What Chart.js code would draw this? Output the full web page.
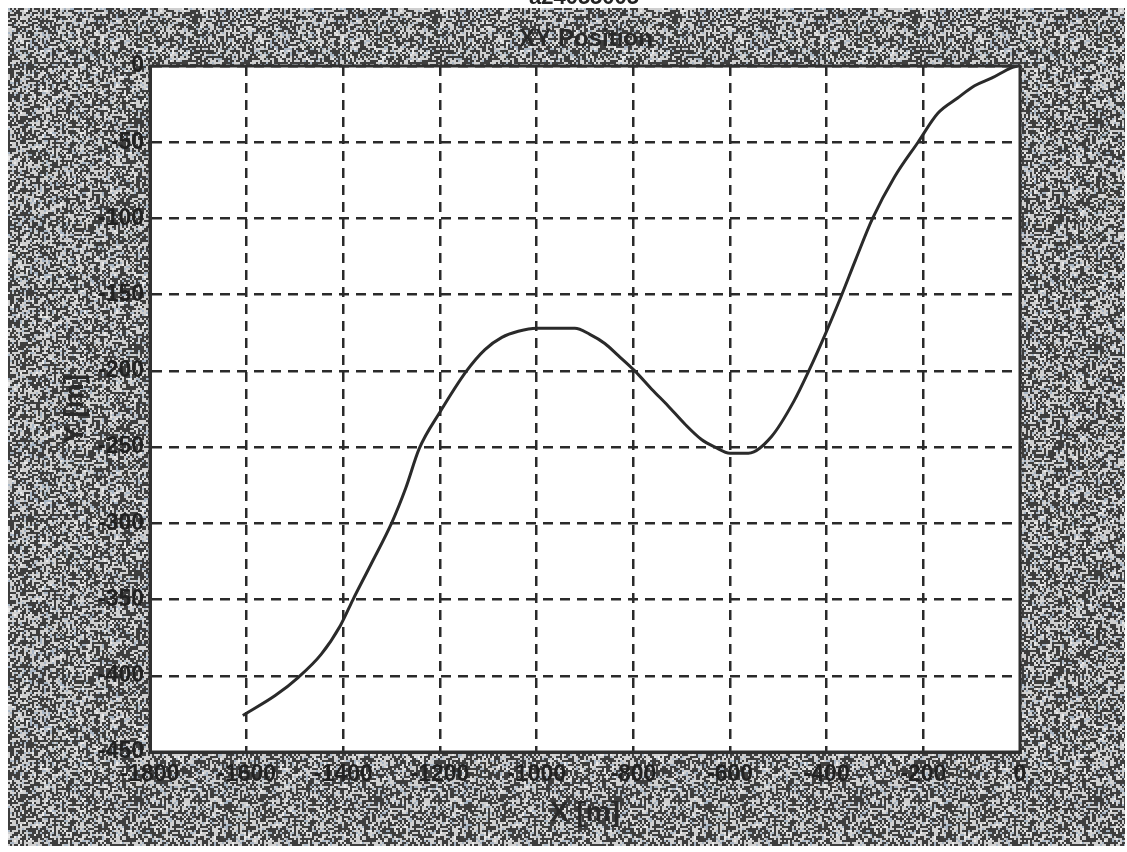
<!DOCTYPE html>
<html>
<head>
<meta charset="utf-8">
<script src="https://cdn.jsdelivr.net/npm/chart.js@4.4.0/dist/chart.umd.min.js"></script>
<style>
  html, body { margin: 0; padding: 0; background: #fff; }
  #wrap { width: 1127px; height: 852px; }
</style>
</head>
<body>
<div id="wrap"><canvas id="myChart" width="1127" height="852"></canvas></div>
<script>
// values (X and Y in metres)
const xPos = [-1608, -1541, -1493, -1446, -1406, -1380, -1343, -1299, -1271, -1243,
  -1200, -1145, -1107, -1072, -1038, -1000, -960, -921, -890, -859,
  -831, -797, -762, -728, -693, -659, -631, -600, -562, -514,
  -468, -437, -403, -370, -340, -305, -260, -211, -170, -129,
  -94, -59, -17, -5];
const yPos = [-426, -413, -401, -386, -367, -350, -327, -299, -277, -251,
  -227, -200, -186, -178, -174, -172, -172, -172, -176, -182,
  -190, -200, -212, -223, -235, -245, -250, -254, -254, -243,
  -220, -200, -176, -151, -127, -100, -73, -50, -31, -21,
  -13, -8, -1, 0];

const xTicks = [-1800, -1600, -1400, -1200, -1000, -800, -600, -400, -200, 0];
const yTicks = [0, -50, -100, -150, -200, -250, -300, -350, -400, -450];

const chartTitle = 'XY Position';
const topCaption = 'a24055005';
const xLabel = 'X [m]';
const yLabel = 'Y [m]';

let noisePattern;

function makeNoise(ctx) {
  const w = 240, h = 226, cell = 2;
  const c = document.createElement('canvas');
  c.width = w; c.height = h;
  const g = c.getContext('2d');
  let s = 987654;
  const rnd = () => { s = (s * 1103515245 + 12345) & 0x7fffffff; return s / 0x7fffffff; };
  g.fillStyle = '#3e3e3e';
  g.fillRect(0, 0, w, h);
  for (let y = 0; y < h; y += cell) {
    for (let x = 0; x < w; x += cell) {
      const r = rnd();
      if (r < 0.5) continue;
      if (r < 0.86) g.fillStyle = '#cfcfcf';
      else if (r < 0.95) g.fillStyle = '#a9b6c4';
      else g.fillStyle = '#e8e8e8';
      g.fillRect(x, y, cell, cell);
    }
  }
  return ctx.createPattern(c, 'repeat');
}

const paperPlugin = {
  id: 'paper',
  beforeDraw(chart) {
    const ctx = chart.ctx;
    const a = chart.chartArea;
    if (!noisePattern) noisePattern = makeNoise(ctx);
    ctx.save();
    ctx.fillStyle = '#ffffff';
    ctx.fillRect(0, 0, chart.width, chart.height);
    ctx.fillStyle = noisePattern;
    ctx.fillRect(8, 8, chart.width - 10, chart.height - 14);
    ctx.fillStyle = '#ffffff';
    ctx.fillRect(a.left, a.top, a.right - a.left, a.bottom - a.top);
    // cut-off caption at the very top
    ctx.fillStyle = '#222';
    ctx.font = 'bold 22px "Liberation Sans", Arial, sans-serif';
    ctx.textAlign = 'center';
    ctx.textBaseline = 'alphabetic';
    ctx.fillText(topCaption, 584, 4);
    // main title
    ctx.fillStyle = '#2a2a2a';
    ctx.font = 'bold 24px "Liberation Sans Narrow", "Liberation Sans", Arial, sans-serif';
    ctx.textBaseline = 'middle';
    ctx.fillText(chartTitle, 586, 39);
    ctx.restore();
  },
  afterDraw(chart) {
    const ctx = chart.ctx;
    const a = chart.chartArea;
    ctx.save();
    ctx.strokeStyle = '#303030';
    ctx.lineWidth = 3;
    ctx.strokeRect(a.left, a.top, a.right - a.left, a.bottom - a.top);
    ctx.restore();
  }
};

const tickFont = { family: '"Liberation Sans Narrow", "Liberation Sans", Arial, sans-serif', size: 23, weight: 'bold' };
const titleFont = { family: '"Liberation Sans Narrow", "Liberation Sans", Arial, sans-serif', size: 28, weight: 'bold' };

new Chart('myChart', {
  type: 'line',
  data: {
    datasets: [{
      data: xPos.map((x, i) => ({ x: x, y: yPos[i] })),
      borderColor: '#2a2a2a',
      borderWidth: 3,
      pointRadius: 0,
      cubicInterpolationMode: 'monotone',
      fill: false
    }]
  },
  options: {
    responsive: false,
    animation: false,
    layout: { padding: { top: 66, right: 107, left: 0, bottom: 0 } },
    plugins: {
      legend: { display: false },
      tooltip: { enabled: false }
    },
    scales: {
      x: {
        type: 'linear',
        min: -1800,
        max: 0,
        afterBuildTicks: (scale) => { scale.ticks = xTicks.map(v => ({ value: v })); },
        afterFit: (scale) => { scale.height = 100; },
        ticks: { font: tickFont, color: '#222', padding: 9, maxRotation: 0, autoSkip: false, callback: (v) => String(v) },
        grid: { color: '#2a2a2a', lineWidth: 2.5, drawTicks: false },
        border: { display: true, color: '#303030', width: 3, dash: [10, 7] },
        title: { display: true, text: xLabel, font: titleFont, color: '#2a2a2a', padding: { top: 0, bottom: 22 } }
      },
      y: {
        type: 'linear',
        min: -450,
        max: 0,
        afterBuildTicks: (scale) => { scale.ticks = yTicks.map(v => ({ value: v })); },
        afterFit: (scale) => { scale.width = 150; },
        ticks: { font: tickFont, color: '#222', padding: 6, autoSkip: false, callback: (v) => String(v) },
        grid: { color: '#2a2a2a', lineWidth: 2.5, drawTicks: false },
        border: { display: true, color: '#303030', width: 3, dash: [10, 7] },
        title: { display: true, text: yLabel, font: titleFont, color: '#2a2a2a', padding: { top: 58, bottom: 0 } }
      }
    }
  },
  plugins: [paperPlugin]
});
</script>
</body>
</html>
